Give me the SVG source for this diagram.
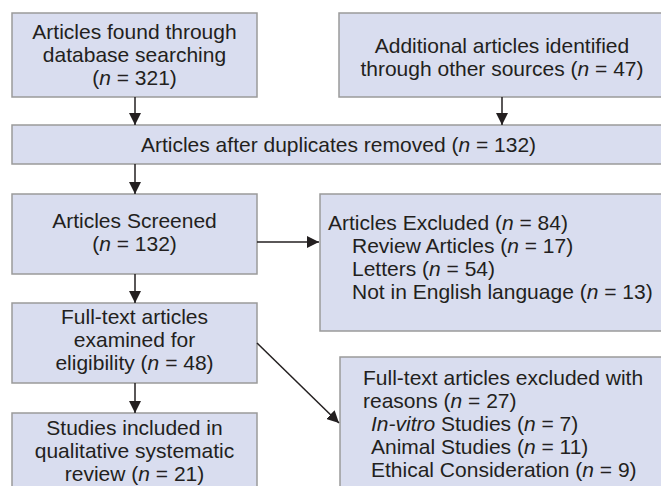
<svg xmlns="http://www.w3.org/2000/svg" width="661" height="486" viewBox="0 0 661 486">
<defs>
<marker id="ah" markerWidth="12" markerHeight="12" refX="12" refY="6" orient="auto" markerUnits="userSpaceOnUse">
<path d="M0,0 L12,6 L0,12 z" fill="#231f20"/>
</marker>
<style>
.box{fill:#d9ddef;stroke:#9a9a9a;stroke-width:1.5}
text{font-family:"Liberation Sans",Arial,sans-serif;font-size:21px;fill:#231f20}
.c{text-anchor:middle}
.conn line{stroke:#231f20;stroke-width:1.5;marker-end:url(#ah)}
</style>
</defs>
<rect width="661" height="486" fill="#fff"/>
<g id="n1"><rect class="box" x="12" y="13" width="245" height="84"/>
<text class="c" x="134.5" y="39">Articles found through</text>
<text class="c" x="134.5" y="62">database searching</text>
<text class="c" x="134.5" y="85">(<tspan font-style="italic">n</tspan> = 321)</text></g>
<g id="n2"><rect class="box" x="339" y="13" width="326" height="84"/>
<text class="c" x="502" y="53">Additional articles identified</text>
<text class="c" x="502" y="76">through other sources (<tspan font-style="italic">n</tspan> = 47)</text></g>
<g id="n3"><rect class="box" x="12" y="125" width="653" height="39"/>
<text class="c" x="338.5" y="152">Articles after duplicates removed (<tspan font-style="italic">n</tspan> = 132)</text></g>
<g id="n4"><rect class="box" x="12" y="194" width="245" height="80"/>
<text class="c" x="134.5" y="228">Articles Screened</text>
<text class="c" x="134.5" y="251">(<tspan font-style="italic">n</tspan> = 132)</text></g>
<g id="n5"><rect class="box" x="320" y="194" width="345" height="137"/>
<text x="328" y="230">Articles Excluded (<tspan font-style="italic">n</tspan> = 84)</text>
<text x="352" y="253">Review Articles (<tspan font-style="italic">n</tspan> = 17)</text>
<text x="352" y="276">Letters (<tspan font-style="italic">n</tspan> = 54)</text>
<text x="352" y="299">Not in English language (<tspan font-style="italic">n</tspan> = 13)</text></g>
<g id="n6"><rect class="box" x="12" y="303" width="245" height="80"/>
<text class="c" x="134.5" y="324">Full-text articles</text>
<text class="c" x="134.5" y="347">examined for</text>
<text class="c" x="134.5" y="370">eligibility (<tspan font-style="italic">n</tspan> = 48)</text></g>
<g id="n7"><rect class="box" x="340" y="357" width="325" height="135"/>
<text x="363" y="385">Full-text articles excluded with</text>
<text x="363" y="408">reasons (<tspan font-style="italic">n</tspan> = 27)</text>
<text x="371" y="431"><tspan font-style="italic">In-vitro</tspan> Studies (<tspan font-style="italic">n</tspan> = 7)</text>
<text x="371" y="454">Animal Studies (<tspan font-style="italic">n</tspan> = 11)</text>
<text x="371" y="477">Ethical Consideration (<tspan font-style="italic">n</tspan> = 9)</text></g>
<g id="n8"><rect class="box" x="12" y="413" width="245" height="80"/>
<text class="c" x="134.5" y="435">Studies included in</text>
<text class="c" x="134.5" y="458">qualitative systematic</text>
<text class="c" x="134.5" y="481">review (<tspan font-style="italic">n</tspan> = 21)</text></g>
<g id="connectors" class="conn">
<line x1="135" y1="97" x2="135" y2="125"/>
<line x1="502" y1="97" x2="502" y2="125"/>
<line x1="135" y1="164" x2="135" y2="194"/>
<line x1="257" y1="242" x2="319" y2="242"/>
<line x1="135" y1="274" x2="135" y2="303"/>
<line x1="135" y1="383" x2="135" y2="413"/>
<line x1="257" y1="343" x2="339" y2="423"/>
</g>
</svg>
